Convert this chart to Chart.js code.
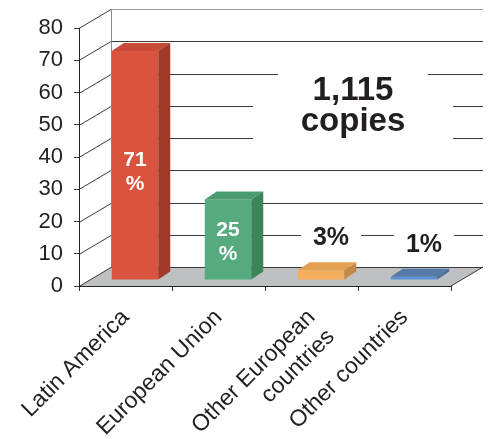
<!DOCTYPE html>
<html>
<head>
<meta charset="utf-8">
<title>Copies by region</title>
<script src="https://cdn.jsdelivr.net/npm/chart.js@4.4.1/dist/chart.umd.min.js"></script>
<style>
  html, body { margin: 0; padding: 0; background: #fff; }
  #wrap { width: 491px; height: 439px; position: relative; }
</style>
</head>
<body>
<div id="wrap"><canvas id="chart"></canvas></div>
<script>
// Chart data
const categories = ['Latin America', 'European Union', ['Other European', 'countries'], 'Other countries'];
const shares = [71, 25, 3, 1];
const yMin = 0;
const yMax = 80;
const yStep = 10;
const totalLabel = ['1,115', 'copies'];

// bar colours: front face, top face, side face
const frontColors = ['#d9533f', '#55ab7d', '#f5ae5c', '#5a8fd4'];
const topColors = ['#c84a39', '#4b9b6e', '#e4a052', '#5579a8'];
const sideColors = ['#9f3a2b', '#3d8559', '#c48a45', '#4a6996'];

// 3D offsets
const WALL_DX = 32, WALL_DY = -19;   // back wall vs front plane
const BAR_DX = 9.5, BAR_DY = -6;     // bar front face vs front plane
const DEPTH_DX = 12, DEPTH_DY = -8;  // bar depth
const FONT = '"Liberation Sans", Arial, Helvetica, sans-serif';

function line(ctx, x0, y0, x1, y1) {
    ctx.beginPath();
    ctx.moveTo(x0, y0);
    ctx.lineTo(x1, y1);
    ctx.stroke();
}

function poly(ctx, pts) {
    ctx.beginPath();
    ctx.moveTo(pts[0][0], pts[0][1]);
    for (let i = 1; i < pts.length; i++) ctx.lineTo(pts[i][0], pts[i][1]);
    ctx.closePath();
    ctx.fill();
}

// geometry of a bar's front face, from the bar element
function barFace(el) {
    const x0 = el.x - el.width / 2 + BAR_DX;
    const x1 = el.x + el.width / 2 + BAR_DX;
    return { x0, x1, top: el.y + BAR_DY, bottom: el.base + BAR_DY };
}

const box3d = {
    id: 'box3d',
    beforeDraw(chart) {
        const ctx = chart.ctx;
        const area = chart.chartArea;
        const y = chart.scales.y;
        const floorY = area.bottom;
        ctx.save();

        // floor
        ctx.fillStyle = '#bfc0c2';
        poly(ctx, [[area.left, floorY], [area.left + WALL_DX, floorY + WALL_DY],
                   [area.right + WALL_DX, floorY + WALL_DY], [area.right, floorY]]);

        // back wall and left wall grid
        ctx.lineWidth = 1;
        for (let v = yMin; v <= yMax; v += yStep) {
            const py = Math.round(y.getPixelForValue(v)) + 0.5;
            ctx.strokeStyle = v === yMax ? '#9a9a9a' : '#3a3a3a';
            line(ctx, area.left + WALL_DX, py + WALL_DY, area.right + WALL_DX, py + WALL_DY);
            ctx.strokeStyle = '#3a3a3a';
            line(ctx, area.left, py, area.left + WALL_DX, py + WALL_DY);
        }
        ctx.strokeStyle = '#8a8a8a';
        const bx = Math.round(area.left + WALL_DX) + 0.5;
        line(ctx, bx, area.top + WALL_DY, bx, floorY + WALL_DY);
        ctx.strokeStyle = '#3a3a3a';
        line(ctx, area.right, floorY, area.right + WALL_DX, floorY + WALL_DY);

        // white knock-outs behind the free-standing text
        ctx.fillStyle = '#fff';
        const cx = area.left + 274;
        ctx.fillRect(cx - 75, 62, 150, 42);
        ctx.fillRect(cx - 100, 104, 200, 42);

        const meta = chart.getDatasetMeta(0);
        ctx.font = 'bold 25px ' + FONT;
        meta.data.forEach((el, i) => {
            if (shares[i] >= 10) return;
            const f = barFace(el);
            const tx = (f.x0 + f.x1) / 2 + 10;
            const base = f.top - 25;
            const w = ctx.measureText(shares[i] + '%').width;
            ctx.fillRect(tx - w / 2 - 12, base - 21, w + 24, 25);
        });
        ctx.restore();
    },
    afterDatasetsDraw(chart) {
        const ctx = chart.ctx;
        const area = chart.chartArea;
        const meta = chart.getDatasetMeta(0);
        ctx.save();
        meta.data.forEach((el, i) => {
            const f = barFace(el);
            // front
            ctx.fillStyle = frontColors[i];
            ctx.fillRect(f.x0, f.top, f.x1 - f.x0, f.bottom - f.top);
            // top
            ctx.fillStyle = topColors[i];
            poly(ctx, [[f.x0, f.top], [f.x0 + DEPTH_DX, f.top + DEPTH_DY],
                       [f.x1 + DEPTH_DX, f.top + DEPTH_DY], [f.x1, f.top]]);
            // side
            ctx.fillStyle = sideColors[i];
            poly(ctx, [[f.x1, f.top], [f.x1 + DEPTH_DX, f.top + DEPTH_DY],
                       [f.x1 + DEPTH_DX, f.bottom + DEPTH_DY], [f.x1, f.bottom]]);

            // value labels
            const mid = (f.x0 + f.x1) / 2;
            ctx.textAlign = 'center';
            if (shares[i] >= 10) {
                ctx.fillStyle = '#fff';
                ctx.font = 'bold 21px ' + FONT;
                ctx.textBaseline = 'middle';
                const cy = f.bottom - (f.bottom - f.top) * 0.47;
                ctx.fillText(String(shares[i]), mid, cy - 12);
                ctx.fillText('%', mid, cy + 12);
            } else {
                ctx.fillStyle = '#231f20';
                ctx.font = 'bold 25px ' + FONT;
                ctx.textBaseline = 'alphabetic';
                ctx.fillText(shares[i] + '%', mid + 10, f.top - 25);
            }
        });

        // total copies
        ctx.fillStyle = '#231f20';
        ctx.font = 'bold 33px ' + FONT;
        ctx.textAlign = 'center';
        ctx.textBaseline = 'alphabetic';
        const cx = area.left + 274;
        ctx.fillText(totalLabel[0], cx, 100);
        ctx.fillText(totalLabel[1], cx, 131);
        ctx.restore();
    }
};

const chart = new Chart(document.getElementById('chart'), {
    type: 'bar',
    data: {
        labels: categories,
        datasets: [{
            data: shares,
            backgroundColor: 'rgba(0,0,0,0)',
            borderWidth: 0,
            barPercentage: 0.5,
            categoryPercentage: 1
        }]
    },
    options: {
        responsive: true,
        maintainAspectRatio: false,
        animation: false,
        layout: { padding: { top: 28, right: 40, left: 0, bottom: 0 } },
        plugins: {
            legend: { display: false },
            tooltip: { enabled: false }
        },
        scales: {
            x: {
                grid: { drawOnChartArea: false, tickLength: 5, color: '#333', offset: true },
                border: { color: '#222', width: 1 },
                ticks: {
                    color: '#231f20',
                    font: { family: FONT, size: 23 },
                    minRotation: 45,
                    maxRotation: 45,
                    padding: 13,
                    labelOffset: 0
                },
                afterFit: scale => { scale.height = 153; }
            },
            y: {
                min: yMin,
                max: yMax,
                grid: { drawOnChartArea: false, tickLength: 5, color: '#333' },
                border: { color: '#222', width: 1 },
                ticks: {
                    stepSize: yStep,
                    color: '#231f20',
                    font: { family: FONT, size: 22 },
                    padding: 11
                },
                afterFit: scale => { scale.width = 79; }
            }
        }
    },
    plugins: [box3d]
});
</script>
</body>
</html>
